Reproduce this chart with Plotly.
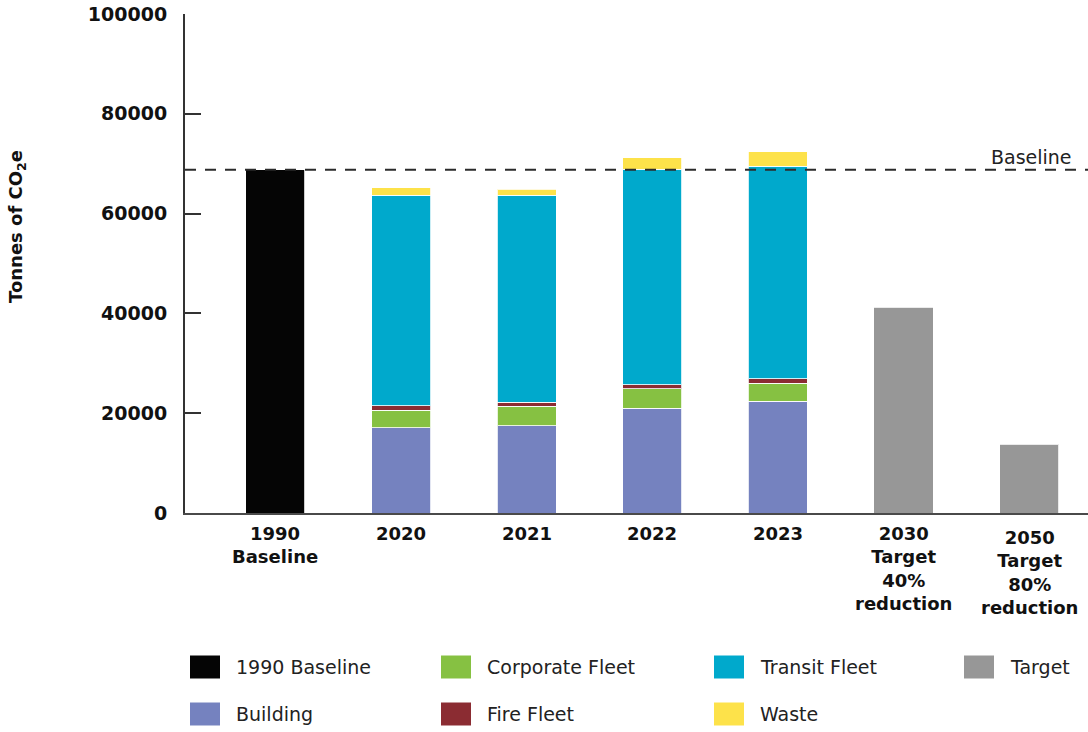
import plotly.graph_objects as go

# ---- data ----
categories = ["1990 Baseline", "2020", "2021", "2022", "2023", "2030 Target", "2050 Target"]
tick_labels = ["1990<br>Baseline", "2020", "2021", "2022", "2023",
               "2030<br>Target<br>40%<br>reduction", "2050<br>Target<br>80%<br>reduction"]

baseline_value = 68800
baseline_1990 = [68800, None, None, None, None, None, None]
building = [None, 17100, 17500, 21000, 22400, None, None]
corporate_fleet = [None, 3500, 3900, 3900, 3600, None, None]
fire_fleet = [None, 900, 800, 800, 900, None, None]
transit_fleet = [None, 42200, 41500, 43200, 42600, None, None]
waste = [None, 1500, 1200, 2300, 2900, None, None]
target = [None, None, None, None, None, 41280, 13760]

series_names = ["1990 Baseline", "Building", "Corporate Fleet", "Fire Fleet",
                "Transit Fleet", "Waste", "Target"]
series_values = [baseline_1990, building, corporate_fleet, fire_fleet,
                 transit_fleet, waste, target]
series_colors = ["#050505", "#7582bf", "#86c142", "#8b2c32",
                 "#00a9cc", "#fde24a", "#979797"]

y_ticks = [0, 20000, 40000, 60000, 80000, 100000]

# legend layout: rows of names
legend_rows = [["1990 Baseline", "Corporate Fleet", "Transit Fleet", "Target"],
               ["Building", "Fire Fleet", "Waste"]]

fig = go.Figure()
for name, vals, col in zip(series_names, series_values, series_colors):
    fig.add_trace(go.Bar(
        x=categories, y=vals, name=name,
        marker=dict(color=col, line=dict(color="rgba(255,255,255,0.8)", width=1)),
        width=0.47, showlegend=False,
    ))

W, H = 1088, 732
L, T, B = 185, 14, 219

fig.update_layout(
    width=W, height=H,
    margin=dict(l=L, r=0, t=T, b=B, pad=0),
    barmode="stack",
    plot_bgcolor="white", paper_bgcolor="white",
    font=dict(family="DejaVu Sans", color="#111111"),
    xaxis=dict(
        type="category", range=[-0.72, 6.469],
        showticklabels=False, ticks="", showgrid=False, zeroline=False,
        showline=True, linecolor="#4a4a4a", linewidth=2,
    ),
    yaxis=dict(
        range=[0, 100000], tickvals=y_ticks, ticktext=[str(v) for v in y_ticks],
        ticks="inside", ticklen=16, tickwidth=2, tickcolor="#333333",
        showgrid=False, zeroline=False,
        showline=True, linecolor="#333333", linewidth=2,
        tickfont=dict(family="DejaVu Sans", size=19, color="#111111", weight="bold"),
        ticklabelstandoff=12,
    ),
)

# baseline dashed line
fig.add_shape(type="line", xref="paper", yref="y", x0=0, x1=1,
              y0=baseline_value, y1=baseline_value,
              line=dict(color="#2b2b2b", width=2, dash="11px,9px"), layer="above")
fig.add_annotation(xref="paper", yref="y", x=0.985, y=baseline_value,
                   text="Baseline", showarrow=False, xanchor="right", yanchor="bottom",
                   yshift=0, font=dict(family="DejaVu Sans", size=19, color="#222222"))

# x category labels (positioned by category index on the category axis)
for i, lab in enumerate(tick_labels):
    fig.add_annotation(xref="x", yref="paper", x=i, y=0, text="<b>" + lab + "</b>",
                       showarrow=False, xanchor="center", yanchor="top",
                       yshift=-8 if i < 6 else -12, align="center",
                       font=dict(family="DejaVu Sans", size=18, color="#111111"))

# y axis title
fig.add_annotation(xref="paper", yref="paper", x=(17 - L) / (W - L),
                   y=(H - B - 227) / (H - T - B),
                   text="<b>Tonnes of CO<sub>2</sub>e</b>", textangle=-90,
                   showarrow=False, xanchor="center", yanchor="middle",
                   font=dict(family="DejaVu Sans", size=18, color="#111111"))

# manual legend with large swatches
col_x = [190, 441, 714, 964]
row_y = [667, 714]
color_of = dict(zip(series_names, series_colors))
pw, ph = W - L, H - T - B
for r, row in enumerate(legend_rows):
    for c, name in enumerate(row):
        x0 = col_x[c]
        yc = row_y[r]
        fig.add_shape(type="rect", xref="paper", yref="paper",
                      x0=(x0 - L) / pw, x1=(x0 + 30 - L) / pw,
                      y0=(H - B - (yc + 11.5)) / ph, y1=(H - B - (yc - 11.5)) / ph,
                      fillcolor=color_of[name], line=dict(width=0))
        fig.add_annotation(xref="paper", yref="paper",
                           x=(x0 + 44 - L) / pw, y=(H - B - yc) / ph,
                           text=name, showarrow=False, xanchor="left", yanchor="middle",
                           font=dict(family="DejaVu Sans", size=19, color="#222222"))

fig.write_html("out.html")
